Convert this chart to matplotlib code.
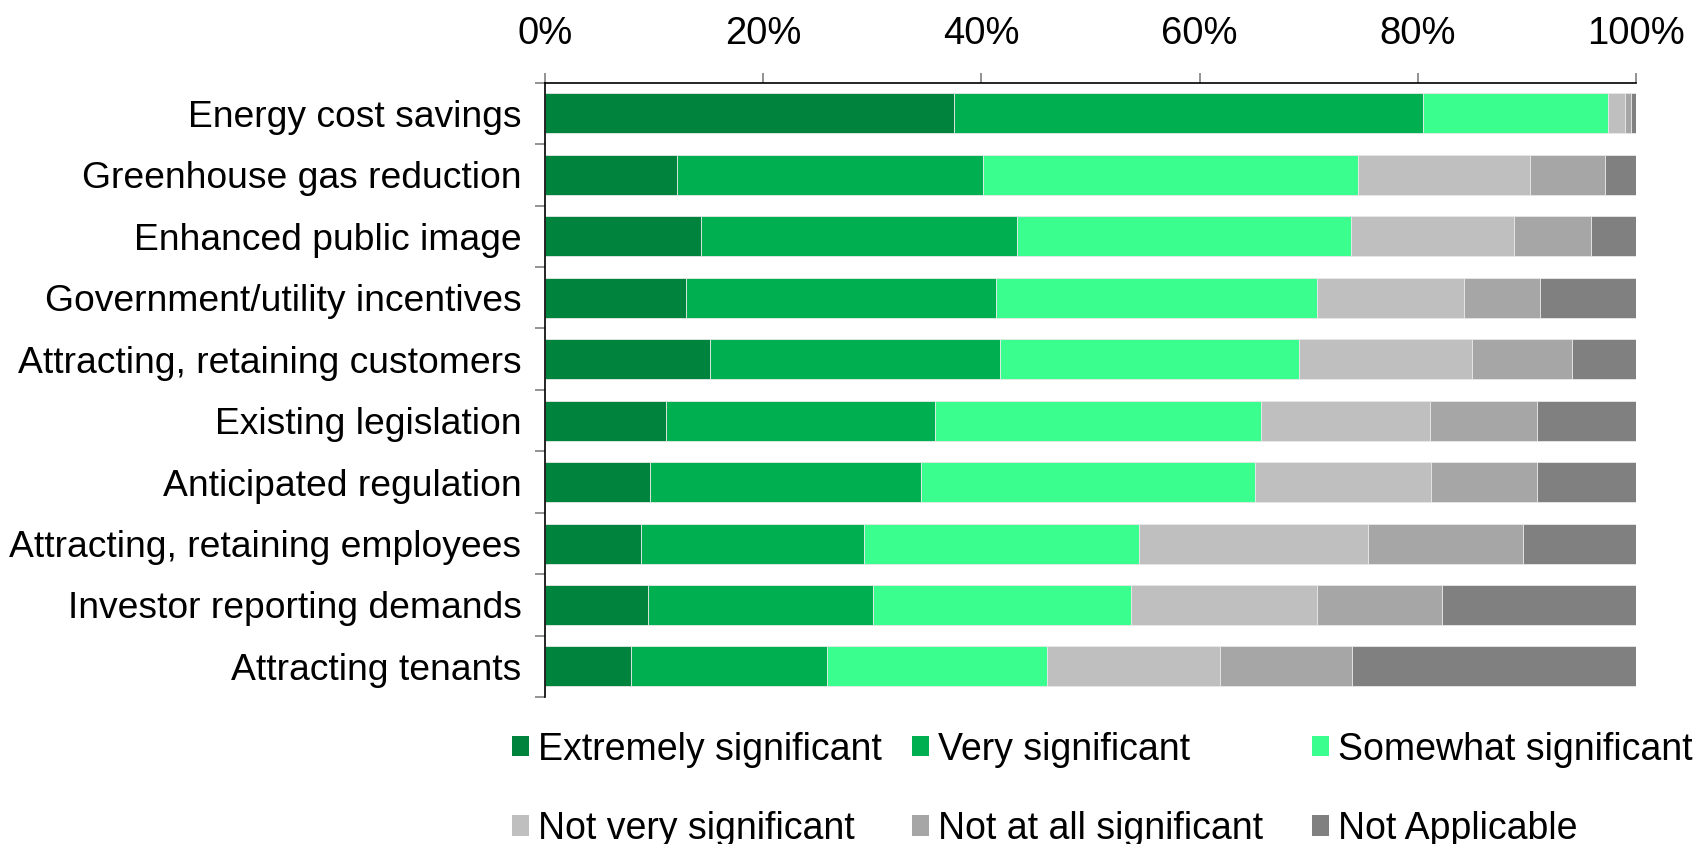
import matplotlib
matplotlib.use("Agg")
import matplotlib.pyplot as plt
from matplotlib.patches import Patch
from matplotlib.ticker import FixedLocator, FuncFormatter

plt.rcParams['font.family'] = ['Liberation Sans', 'DejaVu Sans']

categories = [
    "Energy cost savings",
    "Greenhouse gas reduction",
    "Enhanced public image",
    "Government/utility incentives",
    "Attracting, retaining customers",
    "Existing legislation",
    "Anticipated regulation",
    "Attracting, retaining employees",
    "Investor reporting demands",
    "Attracting tenants",
]

series_names = [
    "Extremely significant",
    "Very significant",
    "Somewhat significant",
    "Not very significant",
    "Not at all significant",
    "Not Applicable",
]

extremely = [37.5, 12.1, 14.3, 12.9, 15.1, 11.1, 9.6, 8.8, 9.4, 7.9]
very = [43.0, 28.0, 29.0, 28.4, 26.6, 24.6, 24.9, 20.4, 20.7, 17.9]
somewhat = [16.9, 34.4, 30.6, 29.5, 27.4, 29.9, 30.6, 25.2, 23.6, 20.2]
not_very = [1.6, 15.8, 14.9, 13.4, 15.9, 15.5, 16.1, 21.0, 17.1, 15.9]
not_at_all = [0.5, 6.9, 7.1, 7.0, 9.1, 9.8, 9.7, 14.2, 11.4, 12.1]
not_applicable = [0.5, 2.8, 4.1, 8.8, 5.9, 9.1, 9.1, 10.4, 17.8, 26.0]

colors = ["#00843D", "#00B050", "#3AFF8F", "#BFBFBF", "#A6A6A6", "#808080"]

fig = plt.figure(figsize=(16.98, 8.44), dpi=100)
ax = fig.add_axes([0.321, 0.174, 0.6425, 0.728])

y = list(range(len(categories)))
left = [0.0] * len(categories)
all_series = [extremely, very, somewhat, not_very, not_at_all, not_applicable]
for vals, name, col in zip(all_series, series_names, colors):
    ax.barh(y, vals, left=left, height=0.65, color=col, edgecolor="#E8E8E8",
            linewidth=0.6, label=name)
    left = [l + v for l, v in zip(left, vals)]

ax.set_xlim(0, 100)
ax.set_ylim(9.5, -0.5)

# x axis on top
ax.xaxis.tick_top()
ax.set_xticks([0, 20, 40, 60, 80, 100])
ax.xaxis.set_major_formatter(FuncFormatter(lambda v, p: f"{v:.0f}%"))
ax.tick_params(axis="x", which="major", length=7, width=1.2, color="#808080",
               pad=15, labelsize=27.5)

# y labels at centres, tick marks at category boundaries
ax.set_yticks(y)
ax.set_yticklabels(categories)
ax.tick_params(axis="y", which="major", length=0, pad=17, labelsize=26.8)
ax.yaxis.set_minor_locator(FixedLocator([i - 0.5 for i in range(len(categories) + 1)]))
ax.tick_params(axis="y", which="minor", length=7, width=1.2, color="#808080")

for s in ["right", "bottom"]:
    ax.spines[s].set_visible(False)
ax.spines["top"].set_linewidth(1.2)
ax.spines["left"].set_linewidth(1.2)

# legend in three fixed columns
handles = [Patch(facecolor=c, edgecolor="none") for c in colors]
col_x = [0.3015, 0.537, 0.7725]
for i, x0 in enumerate(col_x):
    fig.legend([handles[i], handles[i + 3]], [series_names[i], series_names[i + 3]],
               loc="upper left", bbox_to_anchor=(x0, 0.133), frameon=False,
               fontsize=27, handlelength=0.45, handleheight=0.45, handletextpad=0.25,
               labelspacing=1.15, borderaxespad=0, borderpad=0)

fig.savefig("out.png", dpi=100)
